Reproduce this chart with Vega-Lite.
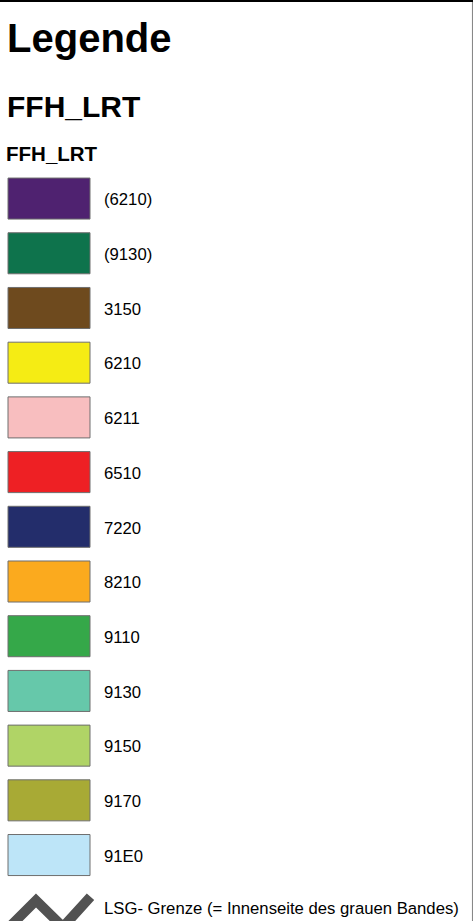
{
  "$schema": "https://vega.github.io/schema/vega-lite/v6.json",
  "width": 473,
  "height": 921,
  "padding": 0,
  "autosize": {"type": "none"},
  "background": "white",
  "config": {"view": {"stroke": null}, "font": "Liberation Sans"},
  "data": {
    "values": [
      {"key": "h1", "label": "Legende", "kind": "h1"},
      {"key": "h2", "label": "FFH_LRT", "kind": "h2"},
      {"key": "h3", "label": "FFH_LRT", "kind": "h3"},
      {"key": "(6210)", "label": "(6210)", "kind": "item"},
      {"key": "(9130)", "label": "(9130)", "kind": "item"},
      {"key": "3150", "label": "3150", "kind": "item"},
      {"key": "6210", "label": "6210", "kind": "item"},
      {"key": "6211", "label": "6211", "kind": "item"},
      {"key": "6510", "label": "6510", "kind": "item"},
      {"key": "7220", "label": "7220", "kind": "item"},
      {"key": "8210", "label": "8210", "kind": "item"},
      {"key": "9110", "label": "9110", "kind": "item"},
      {"key": "9130", "label": "9130", "kind": "item"},
      {"key": "9150", "label": "9150", "kind": "item"},
      {"key": "9170", "label": "9170", "kind": "item"},
      {"key": "91E0", "label": "91E0", "kind": "item"},
      {"key": "lsg", "label": "LSG- Grenze (= Innenseite des grauen Bandes)", "kind": "line"}
    ]
  },
  "encoding": {
    "y": {
      "field": "key",
      "type": "nominal",
      "sort": null,
      "axis": null,
      "scale": {
        "type": "band",
        "domain": ["h1", "h2", "h3", "(6210)", "(9130)", "3150", "6210", "6211", "6510", "7220", "8210", "9110", "9130", "9150", "9170", "91E0", "lsg"],
        "range": [7.1, 937.1],
        "paddingInner": 0.25,
        "paddingOuter": 0.125
      }
    }
  },
  "layer": [
    {
      "transform": [{"filter": "datum.kind === 'item'"}],
      "mark": {"type": "rect", "stroke": "#6e6e6e", "strokeWidth": 1},
      "encoding": {
        "x": {"datum": 0, "type": "quantitative", "axis": null, "scale": {"domain": [0, 1], "range": [8, 90]}},
        "x2": {"datum": 1},
        "fill": {
          "field": "key",
          "type": "nominal",
          "legend": null,
          "scale": {
            "domain": ["(6210)", "(9130)", "3150", "6210", "6211", "6510", "7220", "8210", "9110", "9130", "9150", "9170", "91E0"],
            "range": ["#4f2270", "#0e734c", "#6e4a1e", "#f5ec14", "#f8bebf", "#ee2024", "#232d6b", "#fbaa1e", "#35a849", "#66c8aa", "#b0d466", "#a8aa35", "#bde5f8"]
          }
        }
      }
    },
    {
      "transform": [{"filter": "datum.kind === 'item'"}],
      "mark": {"type": "text", "align": "left", "baseline": "alphabetic", "dy": 6.8, "fontSize": 16.7, "color": "#000000"},
      "encoding": {
        "x": {"datum": 1.1707, "type": "quantitative"},
        "text": {"field": "label"}
      }
    },
    {
      "transform": [{"filter": "datum.kind === 'line'"}],
      "mark": {"type": "text", "align": "left", "baseline": "alphabetic", "dy": 4.5, "fontSize": 16.7, "color": "#000000"},
      "encoding": {
        "x": {"datum": 1.1707, "type": "quantitative"},
        "text": {"field": "label"}
      }
    },
    {
      "transform": [{"filter": "datum.kind === 'line'"}],
      "mark": {
        "type": "point",
        "shape": "M-1,0.619L-0.1875,-0.194L0.375,0.36L0.948,-0.271",
        "size": 9216,
        "filled": false,
        "stroke": "#525252",
        "strokeWidth": 10,
        "strokeJoin": "miter",
        "strokeCap": "butt",
        "opacity": 1
      },
      "encoding": {
        "x": {"datum": 0.4512, "type": "quantitative"}
      }
    },
    {
      "transform": [{"filter": "datum.kind === 'h1'"}],
      "mark": {"type": "text", "align": "left", "baseline": "alphabetic", "dy": 17.5, "fontSize": 40, "fontWeight": "bold", "color": "#000000"},
      "encoding": {
        "x": {"datum": -0.012, "type": "quantitative"},
        "text": {"field": "label"}
      }
    },
    {
      "transform": [{"filter": "datum.kind === 'h2'"}],
      "mark": {"type": "text", "align": "left", "baseline": "alphabetic", "dy": 27.9, "fontSize": 30, "fontWeight": "bold", "color": "#000000"},
      "encoding": {
        "x": {"datum": -0.012, "type": "quantitative"},
        "text": {"field": "label"}
      }
    },
    {
      "transform": [{"filter": "datum.kind === 'h3'"}],
      "mark": {"type": "text", "align": "left", "baseline": "alphabetic", "dy": 17, "fontSize": 20.5, "fontWeight": "bold", "color": "#000000"},
      "encoding": {
        "x": {"datum": -0.024, "type": "quantitative"},
        "text": {"field": "label"}
      }
    },
    {
      "transform": [{"filter": "datum.kind === 'h1'"}],
      "mark": {"type": "rule", "color": "#888888", "strokeWidth": 2},
      "encoding": {
        "x": {"datum": 5.67, "type": "quantitative"},
        "y": {"value": 0},
        "y2": {"value": 921}
      }
    },
    {
      "transform": [{"filter": "datum.kind === 'h1'"}],
      "mark": {"type": "rule", "color": "#000000", "strokeWidth": 4},
      "encoding": {
        "x": {"value": 0},
        "x2": {"value": 473},
        "y": {"value": 0}
      }
    }
  ]
}
